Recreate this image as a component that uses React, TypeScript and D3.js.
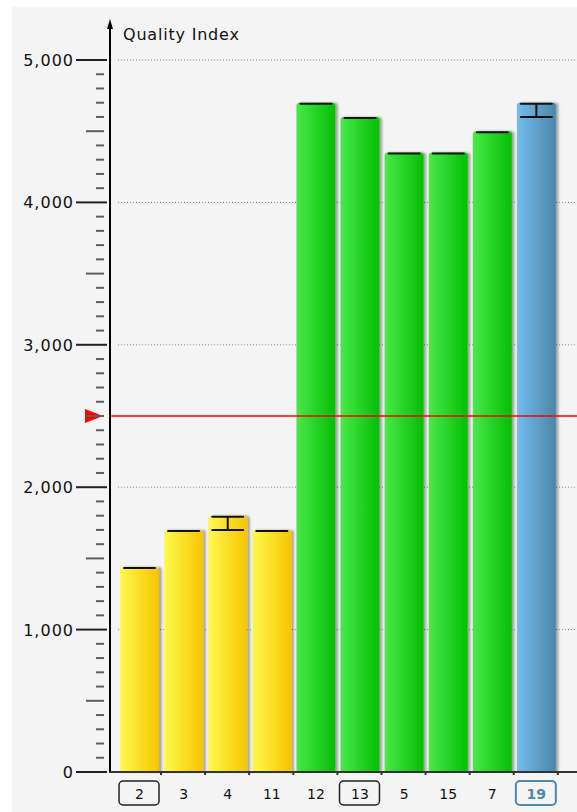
import React from "react";
import * as d3 from "d3";

// chart data
const categories = ["2", "3", "4", "11", "12", "13", "5", "15", "7", "19"];
const values = [1440, 1700, 1800, 1700, 4700, 4600, 4350, 4350, 4500, 4700];
const errLow: (number | null)[] = [null, null, 1700, null, null, null, null, null, null, 4600];
const groups = ["yellow", "yellow", "yellow", "yellow", "green", "green", "green", "green", "green", "blue"];
const boxed = ["2", "13"];
const selected = "19";
const threshold = 2500;
const yMajor = [0, 1000, 2000, 3000, 4000, 5000];

const W = 577;
const H = 812;
const FONT = "'DejaVu Sans', Verdana, sans-serif";

const gradients: Record<string, [string, string]> = {
  yellow: ["#fff94e", "#f6c500"],
  green: ["#48ea48", "#06bd06"],
  blue: ["#74bcee", "#4b86a8"],
};

export default function App() {
  const y = d3.scaleLinear().domain([0, 5000]).range([772, 60]);
  const x = d3.scaleBand<string>().domain(categories).range([117.4, 558.5]).paddingInner(0.116).paddingOuter(0.06);
  const bw = x.bandwidth();
  const axisX = 110;
  const minor = d3.range(100, 5000, 100).filter((v) => v % 1000 !== 0);

  return (
    <svg width={W} height={H} style={{ position: "absolute", left: 0, top: 0, fontFamily: FONT }}>
      <defs>
        {Object.entries(gradients).map(([k, [a, b]]) => (
          <linearGradient key={k} id={`g-${k}`} x1="0" x2="1" y1="0" y2="0">
            <stop offset="0%" stopColor={a} />
            <stop offset="100%" stopColor={b} />
          </linearGradient>
        ))}
        <filter id="shadow" x="-20%" y="-5%" width="150%" height="110%">
          <feDropShadow dx="2.5" dy="0" stdDeviation="1.2" floodColor="#000" floodOpacity="0.35" />
        </filter>
      </defs>
      <rect width={W} height={H} fill="#fff" />
      <rect x={12} y={7} width={W - 12} height={H - 7} fill="#f4f4f4" />

      {/* grid */}
      {yMajor.filter((v) => v > 0).map((v) => (
        <line key={v} x1={118} x2={W} y1={y(v)} y2={y(v)} stroke="#8a8a8a" strokeWidth={1} strokeDasharray="1,2" />
      ))}

      {/* bars */}
      {categories.map((c, i) => {
        const x0 = x(c)!;
        const top = y(values[i]);
        const cx = x0 + bw / 2;
        const lo = errLow[i];
        return (
          <g key={c}>
            <path
              d={`M${x0},${y(0)}V${top + 3}Q${x0},${top} ${x0 + 3},${top}H${x0 + bw - 3}Q${x0 + bw},${top} ${x0 + bw},${top + 3}V${y(0)}Z`}
              fill={`url(#g-${groups[i]})`}
              filter="url(#shadow)"
            />
            <line x1={x0 + 4} x2={x0 + bw - 4} y1={top + 1} y2={top + 1} stroke="#111" strokeWidth={2} strokeLinecap="round" />
            {lo !== null && (
              <g stroke="#111" strokeWidth={2}>
                <line x1={cx} x2={cx} y1={top + 1} y2={y(lo)} />
                <line x1={x0 + 4} x2={x0 + bw - 4} y1={y(lo)} y2={y(lo)} strokeLinecap="round" />
              </g>
            )}
            <line x1={x0 + bw + 2} x2={x0 + bw + 2} y1={y(0)} y2={y(0) + 3} stroke="#333" strokeWidth={2} />
          </g>
        );
      })}

      {/* threshold */}
      <line x1={axisX} x2={W} y1={y(threshold)} y2={y(threshold)} stroke="#ff0000" strokeWidth={1.5} />
      <path d={`M85,${y(threshold) - 7}L103,${y(threshold)}L85,${y(threshold) + 7}Z`} fill="#ff0000" />

      {/* y axis */}
      {minor.map((v) => (
        <line
          key={v}
          x1={v % 500 === 0 ? 86 : 96}
          x2={104}
          y1={y(v)}
          y2={y(v)}
          stroke="#5e5e5e"
          strokeWidth={2}
        />
      ))}
      {yMajor.map((v) => (
        <g key={v}>
          <line x1={76} x2={107} y1={y(v)} y2={y(v)} stroke="#222" strokeWidth={2} />
          <text x={74} y={y(v) + 6} textAnchor="end" fontSize={16} letterSpacing={1} fill="#111">
            {d3.format(",")(v)}
          </text>
        </g>
      ))}
      <line x1={axisX} x2={axisX} y1={y(0) + 1} y2={24} stroke="#000" strokeWidth={2} />
      <path d={`M${axisX},19L${axisX - 3},29L${axisX + 3},29Z`} fill="#000" />
      <text x={123} y={40} fontSize={16} letterSpacing={0.8} fill="#111">Quality Index</text>

      {/* x axis */}
      <line x1={axisX - 1} x2={W} y1={y(0)} y2={y(0)} stroke="#333" strokeWidth={2} />
      {categories.map((c) => {
        const cx = x(c)! + bw / 2;
        const isSel = c === selected;
        const isBox = isSel || boxed.includes(c);
        return (
          <g key={c}>
            {isBox && (
              <rect
                x={x(c)! - 1}
                y={781}
                width={bw + 1}
                height={24}
                rx={4}
                fill="none"
                stroke={isSel ? "#4f88ad" : "#222"}
                strokeWidth={isSel ? 2 : 1.5}
              />
            )}
            <text
              x={cx}
              y={799}
              textAnchor="middle"
              fontSize={14}
              fontWeight={isSel ? "bold" : "normal"}
              fill={isSel ? "#4f88ad" : "#111"}
            >
              {c}
            </text>
          </g>
        );
      })}
    </svg>
  );
}
